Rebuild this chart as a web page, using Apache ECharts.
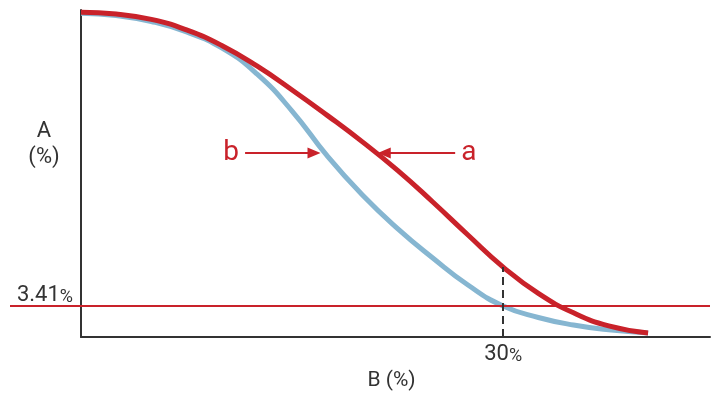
<!DOCTYPE html>
<html><head><meta charset="utf-8">
<script src="https://cdn.jsdelivr.net/npm/echarts@6/dist/echarts.min.js"></script>
<style>html,body{margin:0;padding:0;background:#fff}#c{width:720px;height:400px}</style>
</head><body><div id="c"></div>
<script>
// shared B values (%)
const curveX = [0, 2.5, 5, 7.5, 10, 12.5, 15, 17.5, 20, 22.5, 25, 27.5, 30, 32.5, 35, 37.5, 40.3];
// Curve a (red)
const curveAy = [35.74, 35.56, 34.97, 33.81, 32.10, 29.84, 27.20, 24.40, 21.48, 18.34, 14.86, 11.23, 7.7, 4.80, 2.66, 1.22, 0.44];
// Curve b (blue)
const curveBy = [35.64, 35.39, 34.73, 33.58, 31.82, 28.96, 24.88, 19.93, 15.63, 11.94, 8.70, 5.72, 3.41, 2.15, 1.32, 0.79, 0.44];
const thresholdY = 3.41;
const markerX = 30;
const xTickLabels = ['30'];
const yTickLabels = ['3.41'];
const seriesNames = ['a', 'b'];
const arrowY = 20.26;
const arrowA = [26.59, 21.55];  // from, to (x)
const arrowB = [11.66, 16.56];

const RED = '#c9222a', BLUE = '#86b6d1', INK = '#333333', FONT = 'Roboto';
const redData = curveX.map((x, i) => [x, curveAy[i]]);
const blueData = curveX.map((x, i) => [x, curveBy[i]]);
const redAtMarker = curveAy[curveX.indexOf(markerX)];

const richNum = {
  n: {fontSize: 22, color: INK, fontFamily: FONT, verticalAlign: 'bottom'},
  p: {fontSize: 18, color: INK, fontFamily: FONT, verticalAlign: 'bottom'}
};

const chart = echarts.init(document.getElementById('c'));
chart.setOption({
  animation: false,
  grid: {left: 81, right: 10, top: 10, bottom: 63},
  xAxis: {
    type: 'value', min: 0, max: 44.7,
    axisLine: {show: true, onZero: false, lineStyle: {color: INK, width: 2}},
    axisTick: {show: false},
    splitLine: {show: false},
    axisLabel: {customValues: [markerX], formatter: () => `{n|${xTickLabels[0]}}{p|%}`, margin: 6, rich: richNum},
    name: 'B (%)', nameLocation: 'middle', nameGap: 32,
    nameTextStyle: {fontSize: 21, color: INK, fontFamily: FONT, padding: [0, 8, 0, 0]}
  },
  yAxis: {
    type: 'value', min: 0, max: 36,
    axisLine: {show: true, onZero: false, lineStyle: {color: INK, width: 2}},
    axisTick: {show: true, customValues: [thresholdY], length: 71, lineStyle: {color: RED, width: 2}},
    splitLine: {show: false},
    axisLabel: {customValues: [thresholdY], formatter: () => `{n|${yTickLabels[0]}}{p|%}`, margin: 8, verticalAlign: 'bottom', rich: richNum}
  },
  graphic: [{
    type: 'text', x: 44, y: 144,
    style: {text: 'A\n(%)', textAlign: 'center', textVerticalAlign: 'middle', fontSize: 22, lineHeight: 26, fill: INK, fontFamily: FONT}
  }],
  series: [
    {type: 'line', name: seriesNames[1], data: blueData, smooth: 0.5, symbol: 'none', lineStyle: {color: BLUE, width: 5}, z: 2},
    {type: 'line', name: seriesNames[0], data: redData, smooth: 0.5, symbol: 'none', lineStyle: {color: RED, width: 5}, z: 3,
      markLine: {
        silent: true, symbol: ['none', 'none'], animation: false,
        label: {show: false},
        data: [
          [{yAxis: thresholdY, x: 81, lineStyle: {color: RED, width: 2, type: 'solid'}}, {yAxis: thresholdY, x: 710}],
          [{coord: [markerX, 0], lineStyle: {color: INK, width: 2, type: [8, 5]}}, {coord: [markerX, redAtMarker]}],
          [{coord: [arrowB[0], arrowY], symbol: 'none', lineStyle: {color: RED, width: 2, type: 'solid'},
            label: {show: true, position: 'start', formatter: seriesNames[1], color: RED, fontSize: 28, fontFamily: FONT, distance: 6}},
           {coord: [arrowB[1], arrowY], symbol: 'triangle', symbolSize: [11, 13]}],
          [{coord: [arrowA[0], arrowY], symbol: 'none', lineStyle: {color: RED, width: 2, type: 'solid'},
            label: {show: true, position: 'start', formatter: seriesNames[0], color: RED, fontSize: 28, fontFamily: FONT, distance: 6}},
           {coord: [arrowA[1], arrowY], symbol: 'triangle', symbolSize: [11, 13]}]
        ]
      }
    }
  ]
});
</script></body></html>
